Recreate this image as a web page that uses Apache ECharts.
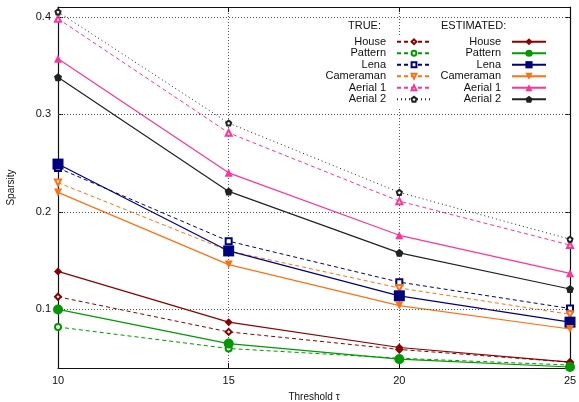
<!DOCTYPE html>
<html><head><meta charset="utf-8">
<script src="https://cdn.jsdelivr.net/npm/echarts@6/dist/echarts.min.js"></script>
<style>html,body{margin:0;padding:0;background:#fff}#c{width:579px;height:402px}</style>
</head><body><div id="c"></div>
<script>
const thresholds = [10, 15, 20, 25];
const imageNames = ['House', 'Pattern', 'Lena', 'Cameraman', 'Aerial 1', 'Aerial 2'];
const yTicks = [0.1, 0.2, 0.3, 0.4];
const xTicks = [10, 15, 20, 25];

// TRUE sparsity
const trueHouse     = [0.113, 0.077, 0.059, 0.046];
const truePattern   = [0.082, 0.060, 0.050, 0.043];
const trueLena      = [0.245, 0.170, 0.128, 0.101];
const trueCameraman = [0.230, 0.160, 0.122, 0.095];
const trueAerial1   = [0.398, 0.281, 0.211, 0.166];
const trueAerial2   = [0.405, 0.291, 0.220, 0.172];

// ESTIMATED sparsity
const estHouse      = [0.139, 0.087, 0.061, 0.046];
const estPattern    = [0.100, 0.065, 0.049, 0.041];
const estLena       = [0.249, 0.160, 0.114, 0.087];
const estCameraman  = [0.220, 0.146, 0.104, 0.080];
const estAerial1    = [0.357, 0.240, 0.176, 0.137];
const estAerial2    = [0.338, 0.221, 0.158, 0.121];

const trueVals = [trueHouse, truePattern, trueLena, trueCameraman, trueAerial1, trueAerial2];
const estVals  = [estHouse, estPattern, estLena, estCameraman, estAerial1, estAerial2];

const colors = ['#8b0000', '#009a00', '#000080', '#ff7010', '#ff3399', '#222222'];
const pent = 'path://M0,-1 L0.951,-0.309 L0.588,0.809 L-0.588,0.809 L-0.951,-0.309 Z';
const estSym  = ['diamond', 'circle', 'rect', 'triangle', 'triangle', pent];
const trueSym = ['emptyDiamond', 'emptyCircle', 'emptyRect', 'emptyTriangle', 'emptyTriangle', 'empty' + pent];
const rot = [0, 0, 0, 180, 0, 0];
const estSize = [8, 10, 11, 8, 8, 8];
const trueSize = [6, 6, 6, 6, 6, 5];
const FONT = 'Liberation Sans';
const TRUE_SUFFIX = ' (TRUE)';

const series = [];
series.push({
  type: 'line', name: '__grid', data: [], silent: true, z: 1,
  markLine: {
    silent: true, symbol: 'none', animation: false,
    label: { show: false },
    lineStyle: { color: '#555', width: 1, type: [1, 2] },
    data: yTicks.map(v => ({ yAxis: v }))
  }
});
imageNames.forEach((n, i) => {
  series.push({
    type: 'line', name: n + TRUE_SUFFIX,
    data: thresholds.map((t, k) => [t, trueVals[i][k]]),
    symbol: trueSym[i], symbolSize: trueSize[i], symbolRotate: rot[i],
    showAllSymbol: true, animation: false, z: 3,
    lineStyle: { color: colors[i], width: 1, type: i === 5 ? [1, 3] : [4, 3] },
    itemStyle: { color: colors[i], borderWidth: 1 }
  });
});
imageNames.forEach((n, i) => {
  series.push({
    type: 'line', name: n,
    data: thresholds.map((t, k) => [t, estVals[i][k]]),
    symbol: estSym[i], symbolSize: estSize[i], symbolRotate: rot[i],
    showAllSymbol: true, animation: false, z: 4,
    lineStyle: { color: colors[i], width: 1.2, type: 'solid' },
    itemStyle: { color: colors[i] }
  });
});

const legendCommon = {
  orient: 'vertical', align: 'right', itemWidth: 34, itemGap: 0,
  backgroundColor: '#fff', selectedMode: false, top: 35,
  textStyle: { fontFamily: FONT, fontSize: 11, color: '#111', lineHeight: 11.5, padding: [0, 6, 0, 0] }
};

const chart = echarts.init(document.getElementById('c'), null, { renderer: 'canvas' });
chart.setOption({
  animation: false,
  backgroundColor: '#fff',
  grid: { left: 58, right: 9, top: 7, bottom: 34, outerBoundsMode: 'none', containLabel: false },
  xAxis: [{
    type: 'value', min: 10, max: 25, interval: 5, position: 'bottom',
    name: 'Threshold τ', nameLocation: 'middle', nameGap: 24,
    nameTextStyle: { fontFamily: FONT, fontSize: 10, color: '#111' },
    axisLine: { lineStyle: { color: '#111', width: 1.2 } },
    axisTick: { inside: true, length: 5, lineStyle: { color: '#111' } },
    axisLabel: { fontFamily: FONT, fontSize: 11, color: '#111', margin: 7 },
    splitLine: { show: true, lineStyle: { color: '#555', width: 1, type: [1, 2] } }
  }, {
    type: 'value', min: 10, max: 25, interval: 5, position: 'top',
    axisLine: { lineStyle: { color: '#111', width: 1.2 } },
    axisTick: { inside: true, length: 5, lineStyle: { color: '#111' } },
    axisLabel: { show: false }, splitLine: { show: false }
  }],
  yAxis: [{
    type: 'value', min: 0.04, max: 0.41, position: 'left',
    name: 'Sparsity', nameLocation: 'middle', nameGap: 42,
    nameTextStyle: { fontFamily: FONT, fontSize: 10, color: '#111' },
    axisLine: { show: true, lineStyle: { color: '#111', width: 1.2 } },
    axisTick: { show: true, inside: true, length: 5, customValues: yTicks, lineStyle: { color: '#111' } },
    axisLabel: { fontFamily: FONT, fontSize: 11, color: '#111', margin: 7, customValues: yTicks,
      formatter: v => String(Math.round(v * 10) / 10) },
    splitLine: { show: false }
  }, {
    type: 'value', min: 0.04, max: 0.41, position: 'right',
    axisLine: { show: true, lineStyle: { color: '#111', width: 1.2 } },
    axisTick: { show: true, inside: true, length: 5, customValues: yTicks, lineStyle: { color: '#111' } },
    axisLabel: { show: false }, splitLine: { show: false }
  }],
  legend: [
    Object.assign({}, legendCommon, {
      right: 143, padding: [1, 4, 2, 12], itemHeight: 6,
      data: imageNames.map(n => n + TRUE_SUFFIX),
      formatter: n => n.replace(TRUE_SUFFIX, '')
    }),
    Object.assign({}, legendCommon, {
      right: 12, padding: [1, 20, 2, 6], itemHeight: 9,
      data: imageNames.slice()
    })
  ],
  graphic: [
    { type: 'text', left: 348, top: 20, style: { text: 'TRUE:', fontFamily: FONT, fontSize: 11, fill: '#111' } },
    { type: 'text', left: 441, top: 20, style: { text: 'ESTIMATED:', fontFamily: FONT, fontSize: 11, fill: '#111' } }
  ],
  series: series
});
</script></body></html>
